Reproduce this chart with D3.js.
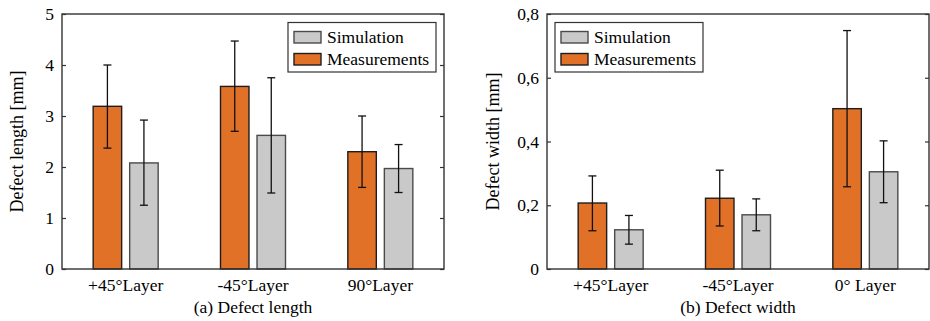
<!DOCTYPE html>
<html>
<head>
<meta charset="utf-8">
<script src="https://cdn.jsdelivr.net/npm/d3@7"></script>
<style>
  body { margin: 0; background: #fff; }
  svg { display: block; font-family: 'Liberation Serif', 'Times New Roman', serif; }
</style>
</head>
<body>
<div id="chart"></div>
<script>
// data
const lengthLayers = ['+45°Layer', '-45°Layer', '90°Layer'];
const lengthMeas = [3.19, 3.58, 2.30];
const lengthMeasLo = [2.37, 2.70, 1.60];
const lengthMeasHi = [4.00, 4.47, 3.00];
const lengthSim = [2.08, 2.62, 1.97];
const lengthSimLo = [1.25, 1.49, 1.50];
const lengthSimHi = [2.92, 3.75, 2.44];
const lengthTicks = [0, 1, 2, 3, 4, 5];

const widthLayers = ['+45°Layer', '-45°Layer', '0° Layer'];
const widthMeas = [0.207, 0.222, 0.503];
const widthMeasLo = [0.120, 0.135, 0.258];
const widthMeasHi = [0.292, 0.310, 0.748];
const widthSim = [0.123, 0.170, 0.305];
const widthSimLo = [0.078, 0.120, 0.208];
const widthSimHi = [0.168, 0.220, 0.402];
const widthTicks = [0, 0.2, 0.4, 0.6, 0.8];

const seriesKeys = ['meas', 'sim'];
const legendItems = [
  { key: 'sim', label: 'Simulation' },
  { key: 'meas', label: 'Measurements' }
];

const WIDTH = 930, HEIGHT = 321;
const FILL = { meas: '#e27128', sim: '#c9c9c9' };
const EDGE = { meas: '#1e1e1e', sim: '#4a4a4a' };

const svg = d3.select('#chart').append('svg')
  .attr('width', WIDTH)
  .attr('height', HEIGHT);

function drawPanel(opts) {
  const { left, right, top, bottom } = opts;
  const g = svg.append('g');

  const x = d3.scaleBand().domain(opts.layers).range([left, right]).padding(0);
  const xs = d3.scaleBand().domain(seriesKeys).range([-32.5, 32.5]).paddingInner(0.22);
  const y = d3.scaleLinear().domain(opts.domain).range([bottom, top]);

  const rows = opts.layers.map((layer, i) => ([
    { layer, key: 'meas', v: opts.meas[i], lo: opts.measLo[i], hi: opts.measHi[i] },
    { layer, key: 'sim', v: opts.sim[i], lo: opts.simLo[i], hi: opts.simHi[i] }
  ])).flat();

  const cx = d => x(d.layer) + x.bandwidth() / 2 + xs(d.key) + xs.bandwidth() / 2;

  g.append('g').selectAll('rect')
    .data(rows)
    .join('rect')
    .attr('x', d => x(d.layer) + x.bandwidth() / 2 + xs(d.key))
    .attr('y', d => y(d.v))
    .attr('width', xs.bandwidth())
    .attr('height', d => y(0) - y(d.v))
    .attr('fill', d => FILL[d.key])
    .attr('stroke', d => EDGE[d.key])
    .attr('stroke-width', 1.4);

  // error bars
  const err = g.append('g').attr('stroke', '#111').attr('stroke-width', 1.3);
  err.selectAll('line.stem')
    .data(rows)
    .join('line')
    .attr('class', 'stem')
    .attr('x1', cx).attr('x2', cx)
    .attr('y1', d => y(d.lo)).attr('y2', d => y(d.hi));
  ['lo', 'hi'].forEach(k => {
    err.selectAll('line.cap-' + k)
      .data(rows)
      .join('line')
      .attr('class', 'cap-' + k)
      .attr('x1', d => cx(d) - 4).attr('x2', d => cx(d) + 4)
      .attr('y1', d => y(d[k])).attr('y2', d => y(d[k]));
  });

  // axes: left with labels, right mirrored, ticks inward
  const yl = g.append('g')
    .attr('transform', `translate(${left},0)`)
    .call(d3.axisLeft(y).tickValues(opts.ticks).tickSize(-4).tickPadding(8).tickFormat(opts.fmt));
  const yr = g.append('g')
    .attr('transform', `translate(${right},0)`)
    .call(d3.axisRight(y).tickValues(opts.ticks).tickSize(-4).tickFormat(''));
  [yl, yr].forEach(a => {
    a.select('.domain').remove();
    a.selectAll('.tick line').attr('stroke', '#333').attr('stroke-width', 1.2);
  });
  yl.selectAll('.tick text')
    .attr('fill', '#000')
    .attr('font-family', 'Liberation Serif, serif')
    .attr('font-size', 17.5);

  const xa = g.append('g')
    .attr('transform', `translate(0,${bottom})`)
    .call(d3.axisBottom(x).tickSize(0).tickPadding(10));
  xa.select('.domain').remove();
  xa.selectAll('.tick text')
    .attr('fill', '#000')
    .attr('font-family', 'Liberation Serif, serif')
    .attr('font-size', 17.5);

  // frame
  g.append('rect')
    .attr('x', left).attr('y', top)
    .attr('width', right - left).attr('height', bottom - top)
    .attr('fill', 'none')
    .attr('stroke', '#333')
    .attr('stroke-width', 1.4);

  g.append('text')
    .attr('transform', `translate(${opts.titleX},${(top + bottom) / 2}) rotate(-90)`)
    .attr('text-anchor', 'middle')
    .attr('dominant-baseline', 'central')
    .attr('font-size', 18)
    .attr('fill', '#000')
    .text(opts.yTitle);

  g.append('text')
    .attr('x', (left + right) / 2)
    .attr('y', 313)
    .attr('text-anchor', 'middle')
    .attr('font-size', 17.5)
    .attr('fill', '#000')
    .text(opts.caption);

  // legend
  const lg = g.append('g').attr('transform', `translate(${opts.legendX},22.5)`);
  lg.append('rect')
    .attr('width', 148).attr('height', 49.5)
    .attr('fill', '#fff')
    .attr('stroke', '#333')
    .attr('stroke-width', 1.2);
  legendItems.forEach((it, i) => {
    const row = lg.append('g').attr('transform', `translate(6,${9 + i * 22})`);
    row.append('rect')
      .attr('width', 27).attr('height', 11.5)
      .attr('fill', FILL[it.key])
      .attr('stroke', EDGE[it.key])
      .attr('stroke-width', 1.4);
    row.append('text')
      .attr('x', 33).attr('y', 11.5)
      .attr('font-size', 17.5)
      .attr('fill', '#000')
      .text(it.label);
  });
}

drawPanel({
  left: 62, right: 444, top: 14, bottom: 269,
  layers: lengthLayers, domain: [0, 5], ticks: lengthTicks,
  fmt: d3.format('d'),
  meas: lengthMeas, measLo: lengthMeasLo, measHi: lengthMeasHi,
  sim: lengthSim, simLo: lengthSimLo, simHi: lengthSimHi,
  yTitle: 'Defect length [mm]', titleX: 17,
  caption: '(a) Defect length', legendX: 288
});

drawPanel({
  left: 547, right: 929, top: 14, bottom: 269,
  layers: widthLayers, domain: [0, 0.8], ticks: widthTicks,
  fmt: d => d === 0 ? '0' : d3.format('.1f')(d).replace('.', ','),
  meas: widthMeas, measLo: widthMeasLo, measHi: widthMeasHi,
  sim: widthSim, simLo: widthSimLo, simHi: widthSimHi,
  yTitle: 'Defect width [mm]', titleX: 493,
  caption: '(b) Defect width', legendX: 555
});
</script>
</body>
</html>
